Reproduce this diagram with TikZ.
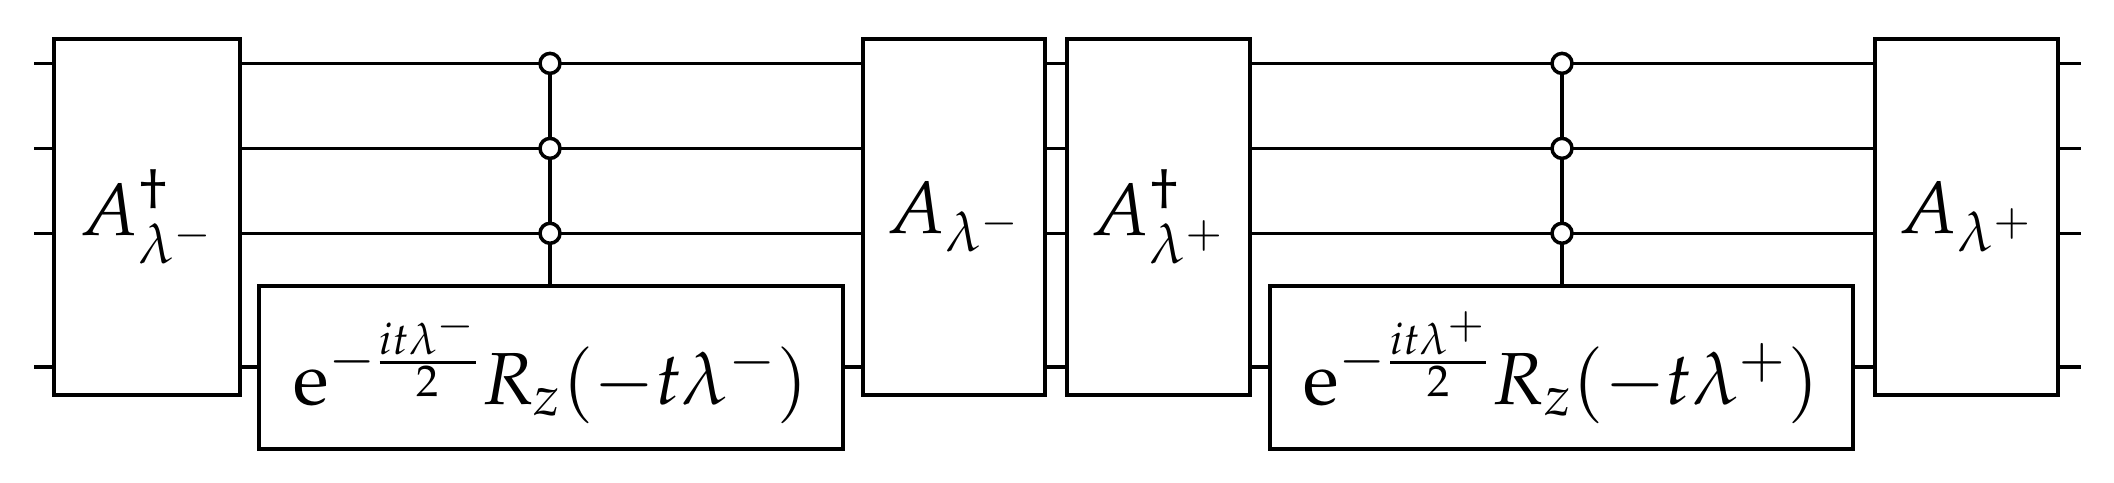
\documentclass[tikz,border=0pt]{standalone}
\usepackage{mathpazo}
\tikzset{
  gate/.style={draw, fill=white, line width=1pt, inner sep=0pt, font=\fontsize{21}{25}\selectfont},
  ctrl/.style={draw, fill=white, circle, line width=1pt, inner sep=0pt, minimum size=0.2cm},
  wire/.style={line width=1pt}
}
\begin{document}
\begin{tikzpicture}
      \useasboundingbox (0,0) rectangle (21.14,4.83);
      % wires
      \foreach \i/\y in {1/4.196, 2/3.346, 3/2.497, 4/1.162} {
        \coordinate (in\i) at (0.34,\y);
        \coordinate (out\i) at (20.81,\y);
        \draw[wire] (in\i) -- (out\i);
      }
      \node[gate, minimum width=1.86cm, minimum height=3.56cm] (Adm) at (1.47,2.66) {$A^\dagger_{\lambda^-}$};
      \node[gate, minimum width=5.84cm, minimum height=1.63cm] (Um) at (5.51,1.155) {$\mathrm{e}^{-\frac{it\lambda^-}{2}} R_z(-t\lambda^-)$};
      \node[gate, minimum width=1.82cm, minimum height=3.56cm] (Am) at (9.54,2.66) {$A_{\lambda^-}$};
      \node[gate, minimum width=1.83cm, minimum height=3.56cm] (Adp) at (11.585,2.66) {$A^\dagger_{\lambda^+}$};
      \node[gate, minimum width=5.83cm, minimum height=1.63cm] (Up) at (15.615,1.155) {$\mathrm{e}^{-\frac{it\lambda^+}{2}} R_z(-t\lambda^+)$};
      \node[gate, minimum width=1.83cm, minimum height=3.56cm] (Ap) at (19.665,2.66) {$A_{\lambda^+}$};

      \draw[wire] (5.50,4.196) -- (Um.north -| 5.50,0);
      \draw[wire] (15.62,4.196) -- (Up.north -| 15.62,0);
      \foreach \y [count=\i] in {4.196, 3.346, 2.497} {
        \node[ctrl] (cm\i) at (5.50,\y) {};
        \node[ctrl] (cp\i) at (15.62,\y) {};
      }
\end{tikzpicture}
\end{document}
